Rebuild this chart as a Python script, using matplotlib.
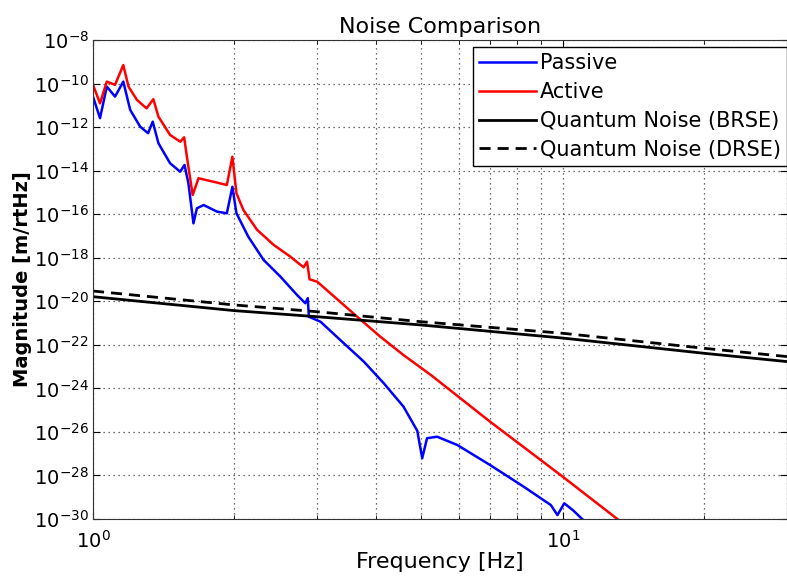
import matplotlib
matplotlib.use("Agg")
import matplotlib.pyplot as plt
import numpy as np
from matplotlib.ticker import FixedLocator, NullLocator, NullFormatter

# Values (frequency in Hz, magnitude as log10 m/rtHz)
passive_freq = [1.0, 1.035, 1.07, 1.114, 1.16, 1.2, 1.26, 1.31, 1.34, 1.378,
                1.459, 1.533, 1.566, 1.596, 1.636, 1.664, 1.72, 1.835, 1.927, 1.98,
                2.02, 2.14, 2.307, 2.506, 2.718, 2.83, 2.865, 2.88, 3.05, 3.36,
                3.77, 4.16, 4.58, 4.9, 5.02, 5.14, 5.40, 5.96, 7.0, 8.26,
                9.43, 9.74, 10.07, 10.5, 11.5]
passive_log = [-10.6, -11.59, -10.14, -10.6, -9.91, -11.21, -11.98, -12.28, -11.75, -12.74,
               -13.66, -14.05, -13.74, -14.58, -16.42, -15.73, -15.58, -15.88, -15.96, -14.74,
               -15.96, -17.03, -18.1, -18.87, -19.71, -20.09, -19.86, -20.71, -20.94, -21.78,
               -22.77, -23.77, -24.84, -25.95, -27.21, -26.29, -26.22, -26.6, -27.52, -28.52,
               -29.36, -29.82, -29.28, -29.59, -30.4]

active_freq = [1.0, 1.035, 1.07, 1.114, 1.16, 1.19, 1.24, 1.30, 1.344, 1.378,
               1.459, 1.533, 1.563, 1.588, 1.63, 1.677, 1.805, 1.927, 1.98, 2.02,
               2.09, 2.235, 2.424, 2.63, 2.807, 2.855, 2.89, 3.0, 3.2, 3.65,
               4.09, 4.58, 5.24, 7.0, 10.0, 13.06, 14.0]
active_log = [-10.06, -10.91, -9.91, -10.06, -9.15, -10.14, -10.75, -11.14, -10.72, -11.52,
              -12.36, -12.67, -12.47, -13.51, -15.12, -14.35, -14.51, -14.66, -13.36, -15.04,
              -15.81, -16.72, -17.41, -17.95, -18.44, -18.18, -18.99, -19.1, -19.63, -20.71,
              -21.63, -22.47, -23.39, -25.53, -28.06, -30.0, -30.45]

qn_freq = [1.0, 2.0, 3.0, 5.0, 10.0, 20.0, 30.0]
brse_log = [-19.79, -20.43, -20.71, -21.09, -21.69, -22.39, -22.77]
drse_log = [-19.53, -20.17, -20.48, -20.94, -21.47, -22.16, -22.54]

labels = ["Passive", "Active", "Quantum Noise (BRSE)", "Quantum Noise (DRSE)"]

fig = plt.figure(figsize=(7.87, 5.83), dpi=100)
ax = fig.add_axes([93 / 787, 1 - 519 / 583, (787 - 93) / 787, 479 / 583])

ax.loglog(passive_freq, 10.0 ** np.array(passive_log), color="#0000ff", lw=1.8, label=labels[0])
ax.loglog(active_freq, 10.0 ** np.array(active_log), color="#ff0000", lw=1.8, label=labels[1])
ax.loglog(qn_freq, 10.0 ** np.array(brse_log), color="k", lw=2.0, label=labels[2])
ax.loglog(qn_freq, 10.0 ** np.array(drse_log), color="k", lw=2.0, ls=(0, (4, 2.5)), label=labels[3])

ax.set_xlim(1, 30)
ax.set_ylim(1e-30, 1e-8)

ax.xaxis.set_major_locator(FixedLocator([1, 10]))
ax.xaxis.set_minor_locator(FixedLocator([2, 3, 4, 5, 6, 7, 8, 9, 20, 30]))
ax.xaxis.set_minor_formatter(NullFormatter())
ax.yaxis.set_major_locator(FixedLocator(10.0 ** np.arange(-30, -7, 2)))
ax.yaxis.set_minor_locator(NullLocator())

ax.tick_params(which="both", direction="in", top=True, right=True, labelsize=14)
ax.tick_params(which="major", length=5)
ax.tick_params(which="minor", length=3)
ax.tick_params(axis="x", pad=8)
ax.tick_params(axis="y", pad=3)

grid_style = dict(ls=(0, (1, 3)), color="0.25", lw=0.9)
ax.grid(which="major", axis="y", **grid_style)
ax.grid(which="both", axis="x", **grid_style)

for spine in ax.spines.values():
    spine.set_color("0.2")

ax.set_title("Noise Comparison", fontsize=16, pad=5)
ax.set_xlabel("Frequency [Hz]", fontsize=16, labelpad=0)
ax.set_ylabel("Magnitude [m/rtHz]", fontsize=14, fontweight="bold", labelpad=1)

leg = ax.legend(loc="upper right", bbox_to_anchor=(1.0, 0.985), borderaxespad=0,
                fontsize=15, fancybox=False, framealpha=1, edgecolor="k",
                handlelength=2.7, handletextpad=0.2, labelspacing=0.42, borderpad=0.3)
leg.get_frame().set_linewidth(1.0)

fig.savefig("out.png", dpi=100, facecolor="white")
